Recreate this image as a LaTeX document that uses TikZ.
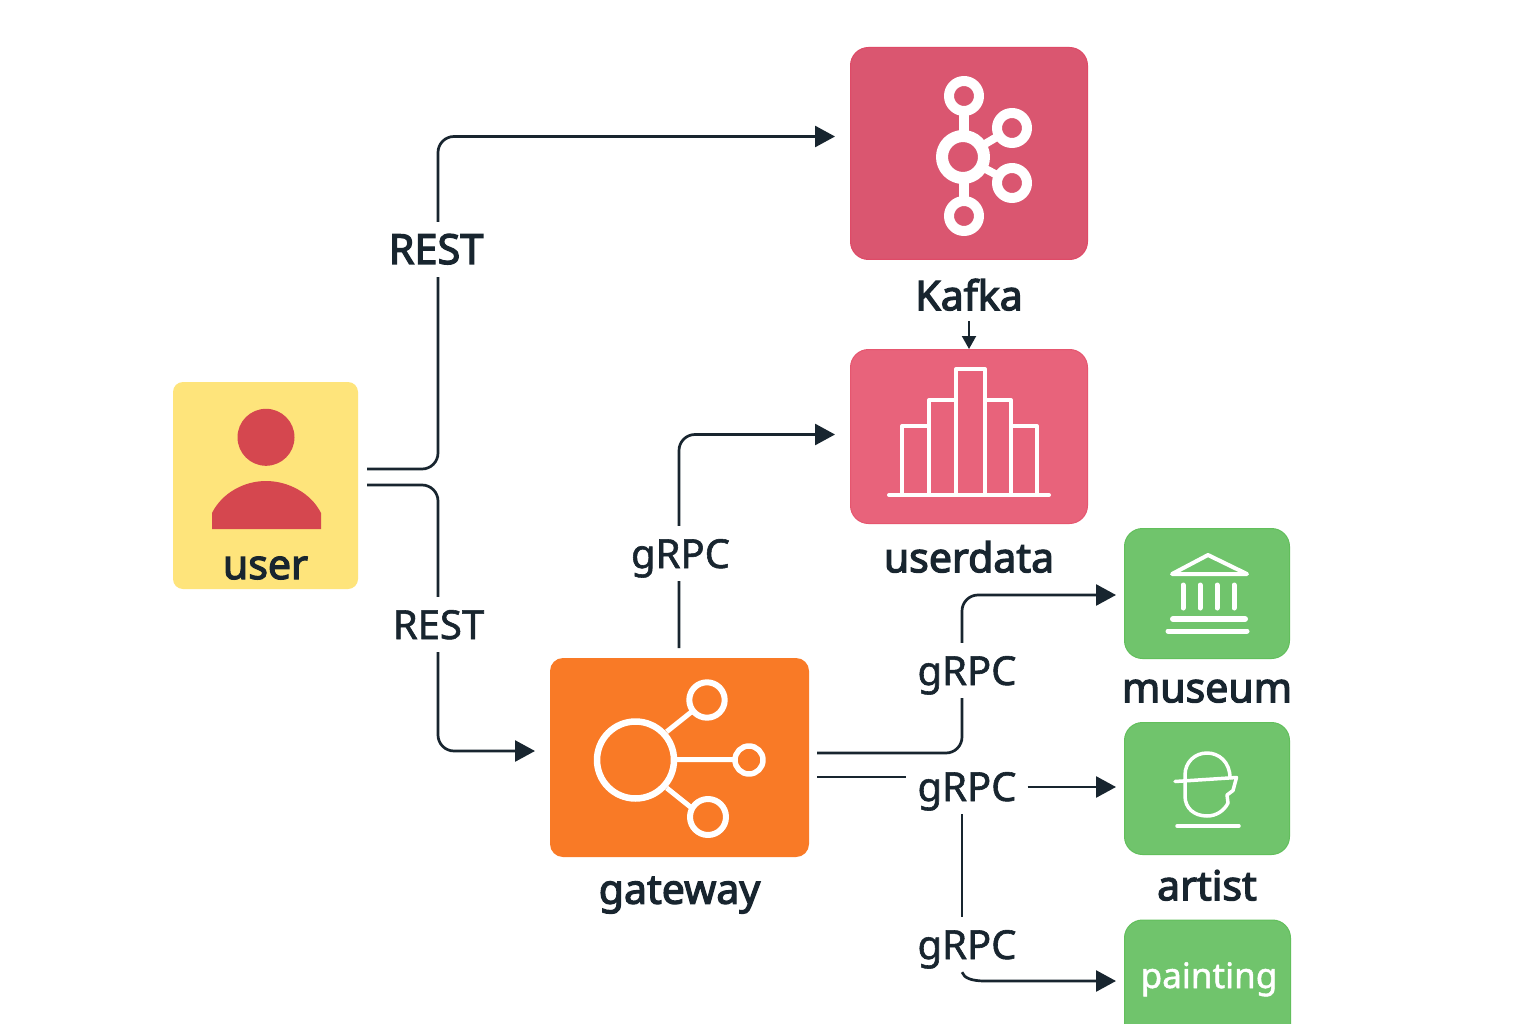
\documentclass[tikz,border=0pt]{standalone}
\usepackage{fontspec}
\setmainfont[FakeBold=3]{Noto Sans}
\newfontfamily\plainfont[FakeBold=1.4]{Noto Sans}
\usetikzlibrary{calc,positioning,arrows.meta}
\definecolor{ink}{HTML}{18252F}
\definecolor{kafkared}{HTML}{DA5670}
\definecolor{kafkaedge}{HTML}{DF4A67}
\definecolor{datared}{HTML}{E8637B}
\definecolor{dataedge}{HTML}{E6566F}
\definecolor{usrred}{HTML}{D5474F}
\definecolor{usryellow}{HTML}{FEE47B}
\definecolor{gworange}{HTML}{F97A26}
\definecolor{svcgreen}{HTML}{70C46C}
\definecolor{svcedge}{HTML}{62BF5C}

\begin{document}
\begin{tikzpicture}[x=1pt,y=-1pt,
    box/.style={rounded corners=18pt, inner sep=0pt, anchor=center, line width=1pt},
    lbl/.style={inner sep=0pt, text height=30pt, text depth=8pt, text=ink, font=\fontsize{41}{41}\selectfont},
    proto/.style={fill=white, anchor=base, inner xsep=11pt, inner ysep=13pt, text height=29pt, text depth=0pt, text=ink, font=\plainfont\fontsize{40}{40}\selectfont},
    wire/.style={draw=ink, line width=2.7pt, rounded corners=16pt},
    arrow/.style={wire, -{Triangle[length=20pt,width=21pt]}},
    icon/.style={draw=white, line width=4pt, line cap=round, line join=round}]

\fill[white] (0,0) rectangle (1536,1024);
\clip (0,0) rectangle (1536,1024);

% boxes
\node[box, fill=usryellow, rounded corners=10pt, minimum width=185pt, minimum height=207pt] (user) at (265.5,485.5) {};
\node[box, fill=kafkared, draw=kafkaedge, minimum width=237pt, minimum height=212pt] (kafka) at (969,153.5) {};
\node[box, fill=datared, draw=dataedge, minimum width=237pt, minimum height=174pt] (userdata) at (969,436.5) {};
\node[box, fill=gworange, rounded corners=13pt, minimum width=259pt, minimum height=199pt] (gateway) at (679.5,757.5) {};
\node[box, fill=svcgreen, draw=svcedge, minimum width=165pt, minimum height=130pt] (museum) at (1207,593.5) {};
\node[box, fill=svcgreen, draw=svcedge, minimum width=165pt, minimum height=132pt] (artist) at (1207,788.5) {};
\node[box, fill=svcgreen, draw=svcedge, minimum width=166pt, minimum height=140pt] (painting) at (1207.5,990) {};

% names
\node[lbl, anchor=base] (userlabel) at (265.5,579) {user};
\node[lbl, below=20pt of kafka] (kafkalabel) {Kafka};
\node[lbl, below=18pt of userdata] (userdatalabel) {userdata};
\node[lbl, below=16pt of gateway] (gatewaylabel) {gateway};
\node[lbl, below=13pt of museum] (museumlabel) {museum};
\node[lbl, below=15pt of artist] (artistlabel) {artist};
\node[lbl, anchor=base, text=white, font=\plainfont\fontsize{35}{35}\selectfont] (paintinglabel) at (1209,988) {painting};

% free ends
\coordinate (userup) at (367,469);
\coordinate (userdown) at (367,485);
\coordinate (kafkain) at (835,136.5);
\coordinate (datain) at (835,434.5);
\coordinate (gatewayin) at (535,751);
\coordinate (gatewayup) at (679,648);
\coordinate (gwout1) at (817,753);
\coordinate (gwout2) at (817,777);
\coordinate (museumin) at (1116,595);
\coordinate (artistin) at (1116,787);
\coordinate (paintingin) at (1116,981);
\coordinate (trunk) at (962,880);

\draw[arrow] (userup) -| (438,300) |- (kafkain);
\draw[arrow] (userdown) -| (438,600) |- (gatewayin);
\draw[arrow] (gatewayup) |- (datain);
\draw[arrow] (gwout1) -| (trunk |- museumlabel) |- (museumin);
\draw[arrow, -{Triangle[length=13pt,width=14pt]}, line width=2pt, shorten <=3pt] (kafkalabel.south) -- (userdata.north);

\node[proto, font=\fontsize{41.5}{42}\selectfont] (rest1) at (436,264) {REST};
\node[proto] (rest2) at (438.5,639) {REST};
\node[proto] (grpc1) at (680.5,568) {gRPC};
\node[proto] (grpc2) at (967,685) {gRPC};
\node[proto] (grpc3) at (967,801) {gRPC};
\node[proto] (grpc4) at (967,959) {gRPC};

\draw[wire] (gwout2) -- (gwout2 -| grpc3.west);
\draw[arrow] (grpc3.east |- artistin) -- (artistin);
\draw[wire] (grpc3.south -| trunk) -- (grpc4.north -| trunk);
\draw[arrow, rounded corners=0pt] (grpc4.south -| trunk) .. controls ++(2,6) and (972,981) .. (985,981) -- (paintingin);

% user icon
\fill[usrred] (266,437.3) circle (28.5);
\fill[usrred] (212,529) -- (212,513) .. controls (222,493) and (244,481) .. (266,481) .. controls (288,481) and (311,493) .. (321,513) -- (321,529) -- cycle;

% kafka icon
\draw[icon, line width=10pt, line cap=butt] (964,96) -- (964,216);
\draw[icon, line width=8pt, line cap=butt] (1012,128) -- (963,157) -- (1012,183);
\fill[kafkared] (964,96) circle (15) (963,157) circle (21) (1012,128) circle (15) (1012,183) circle (15) (964,216) circle (15);
\draw[icon, line width=10pt] (964,96) circle (15) (1012,128) circle (15) (1012,183) circle (15) (964,216) circle (15);
\draw[icon, line width=12pt] (963,157) circle (21);

% userdata icon
\draw[icon, line cap=butt] (902,495) |- (929,426) -- (929,495);
\draw[icon, line cap=butt] (929,426) |- (956,400) -- (956,495);
\draw[icon, line cap=butt] (956,400) |- (985,369) -- (985,495);
\draw[icon, line cap=butt] (985,400) -| (1011,495);
\draw[icon, line cap=butt] (1011,426) -| (1037,495);
\draw[icon] (889,495) -- (1049,495);

% gateway icon
\draw[icon, line width=5pt, line cap=butt] (666.7,731.7) -- (691.7,711.7) (677,759.5) -- (735,759.5) (666.7,788) -- (691.7,808);
\draw[icon, line width=6.5pt] (635.5,760) circle (38.5);
\draw[icon, line width=6pt] (707,700) circle (17.7) (708,817) circle (18);
\draw[icon, line width=5.5pt] (749,760) circle (14);

% museum icon
\draw[icon] (1208,555) -- (1172,574) -- (1247,574) -- cycle;
\foreach \colx in {1183,1200,1217,1234} {
  \draw[icon, line width=5pt] (\colx,585) -- (\colx,608);
}
\draw[icon, line width=6pt] (1173,619) -- (1245,619);
\draw[icon, line width=5pt] (1168,631) -- (1247,631);

% artist icon
\draw[icon, line width=3.5pt] (1175,781.5) -- (1236.5,777.5) -- (1233,790.5) -- (1227,795) -- (1228,803) .. controls (1224,811) and (1216,816) .. (1207,816) .. controls (1194,816) and (1185,808) .. (1185,796) -- (1185,775) .. controls (1185,762) and (1195,753) .. (1207,753) .. controls (1219,753) and (1230,762) .. (1230,778);
\draw[icon, line width=3.5pt] (1177,826) -- (1239,826);

\end{tikzpicture}
\end{document}
